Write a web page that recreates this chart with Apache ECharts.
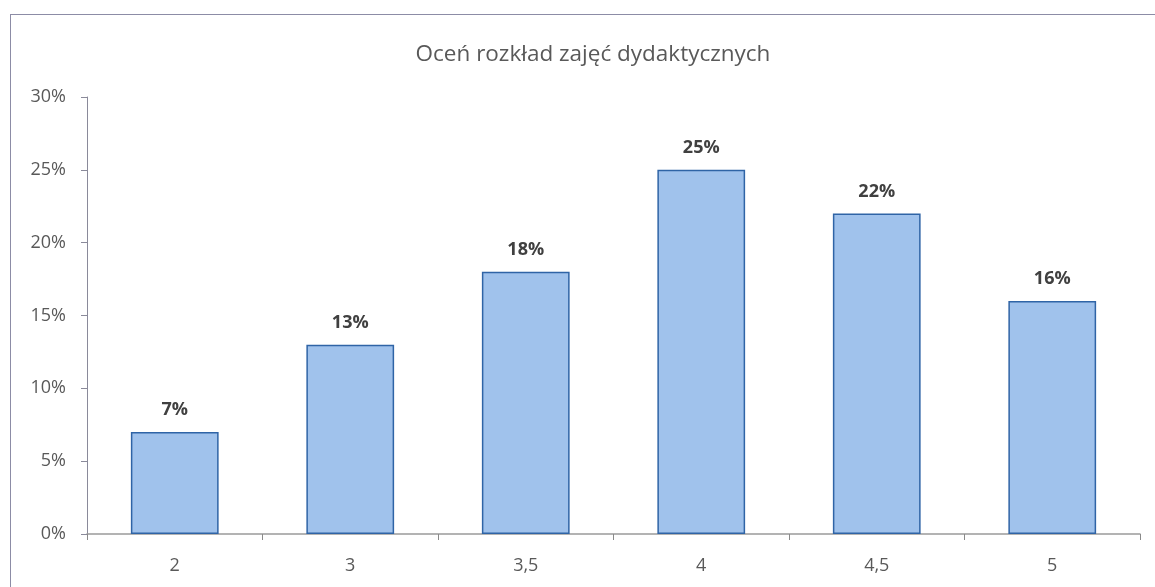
<!DOCTYPE html>
<html>
<head>
<meta charset="utf-8">
<script src="https://cdn.jsdelivr.net/npm/echarts@6/dist/echarts.min.js"></script>
<style>
  html, body { margin: 0; padding: 0; background: #fff; }
  #frame { position: absolute; left: 10px; top: 14px; width: 1160px; height: 600px; border: 1px solid #8c8ca6; }
  #main { position: absolute; left: 0; top: 0; width: 1155px; height: 587px; }
</style>
</head>
<body>
<div id="frame"></div>
<div id="main"></div>
<script>
var categories = ['2', '3', '3,5', '4', '4,5', '5'];
var values = [7, 13, 18, 25, 22, 16];
var yTicks = [0, 5, 10, 15, 20, 25, 30];

var dom = document.getElementById('main');
var myChart = echarts.init(dom);
var option = {
    title: {
        text: 'Oceń rozkład zajęć dydaktycznych',
        left: 588,
        textAlign: 'center',
        top: 38,
        textStyle: {
            color: '#595959',
            fontSize: 22.5,
            fontWeight: 'normal',
            fontFamily: 'Open Sans'
        }
    },
    grid: {
        left: 87,
        right: 15,
        top: 97,
        bottom: 53
    },
    xAxis: {
        type: 'category',
        data: categories,
        axisTick: {
            show: true,
            alignWithLabel: false,
            length: 6,
            lineStyle: { color: '#8a8a8a' }
        },
        axisLine: { lineStyle: { color: '#9a9a9a', width: 1.5 } },
        axisLabel: {
            color: '#595959',
            fontSize: 18,
            margin: 23,
            fontFamily: 'Open Sans'
        }
    },
    yAxis: {
        type: 'value',
        min: yTicks[0],
        max: yTicks[yTicks.length - 1],
        interval: 5,
        splitLine: { show: false },
        axisLine: { show: true, lineStyle: { color: '#8a8a9a' } },
        axisTick: { show: true, length: 6, lineStyle: { color: '#8a8a9a' } },
        axisLabel: {
            color: '#595959',
            fontSize: 18,
            margin: 21,
            fontFamily: 'Open Sans',
            formatter: '{value}%'
        }
    },
    series: [{
        type: 'bar',
        data: values,
        barWidth: '50%',
        itemStyle: {
            color: '#a0c2ec',
            borderColor: '#2f64a6',
            borderWidth: 1.5
        },
        label: {
            show: true,
            position: 'top',
            distance: 13,
            formatter: '{c}%',
            color: '#404040',
            fontSize: 18,
            fontWeight: 'bold',
            fontFamily: 'Open Sans'
        },
        animation: false
    }]
};
myChart.setOption(option, true);
</script>
</body>
</html>
